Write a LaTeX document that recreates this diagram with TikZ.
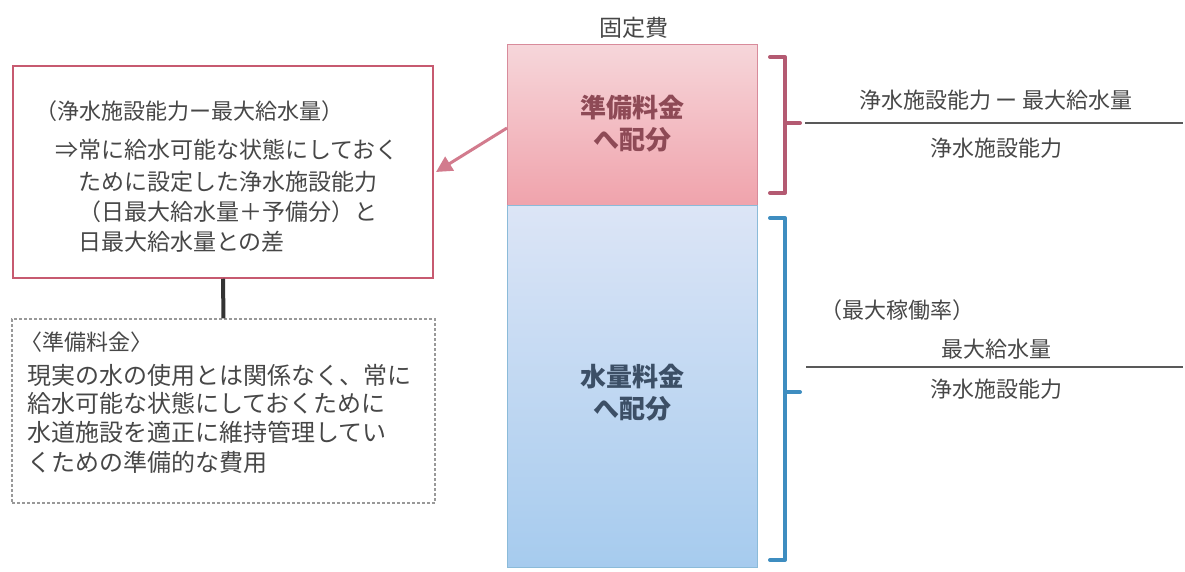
\documentclass[tikz,border=0pt]{standalone}
\usepackage{fontspec}
\setmainfont{Noto Sans CJK JP}
\usetikzlibrary{arrows.meta}
\definecolor{txt}{HTML}{474747}
\definecolor{redline}{HTML}{C75A70}
\definecolor{redbr}{HTML}{B45A72}
\definecolor{bluebr}{HTML}{3E8DC0}
\definecolor{pinktop}{HTML}{F6D6DA}
\definecolor{pinkbot}{HTML}{F0A3AC}
\definecolor{bluetop}{HTML}{DCE5F6}
\definecolor{bluebot}{HTML}{A6CBEE}
\definecolor{pinktxt}{HTML}{8E4A56}
\definecolor{bluetxt}{HTML}{3C4F66}
\tikzset{
  lbl/.style={inner sep=0pt, text=txt, font=\fontsize{23}{28}\selectfont, anchor=west},
  rlbl/.style={inner sep=0pt, text=txt, font=\fontsize{22}{26}\selectfont},
  bracket/.style={line width=4pt, line cap=round, line join=round},
  fracline/.style={line width=1.4pt, draw=txt!90},
}
\begin{document}
\begin{tikzpicture}[x=1pt,y=-1pt]
\useasboundingbox (0,0) rectangle (1185,572);
% main column
\node[draw=redline!70, line width=1pt, top color=pinktop, bottom color=pinkbot, minimum width=250pt, minimum height=160pt, inner sep=0pt] (pink) at (632,125) {};
\node[draw=bluebr!60, line width=1pt, top color=bluetop, bottom color=bluebot, minimum width=250pt, minimum height=362pt, inner sep=0pt] (blue) at (632,386) {};
\node[inner sep=0pt, text=txt, font=\fontsize{23}{28}\selectfont] (kotei) at (634,28) {固定費};
\node[inner sep=0pt, text=pinktxt, align=center, font=\fontsize{26}{32}\selectfont\bfseries] (pinktext) at (632,124) {準備料金\\へ配分};
\node[inner sep=0pt, text=bluetxt, align=center, font=\fontsize{26}{32}\selectfont\bfseries] (bluetext) at (632,393) {水量料金\\へ配分};
% left red box
\node[draw=redline, line width=1.5pt, fill=white, minimum width=420pt, minimum height=212pt, inner sep=0pt] (redbox) at (223,172) {};
\node[lbl, font=\fontsize{22}{26}\selectfont] (l1) at (35,111) {（浄水施設能力ー最大給水量）};
\node[lbl] (l2) at (55,150) {⇒常に給水可能な状態にしておく};
\node[lbl] (l3) at (78,182) {ために設定した浄水施設能力};
\node[lbl] (l4) at (78,212) {（日最大給水量＋予備分）と};
\node[lbl] (l5) at (78,242) {日最大給水量との差};
% dashed box
\node[draw=gray!80, line width=1.2pt, dash pattern=on 3pt off 2pt, minimum width=423pt, minimum height=184pt, inner sep=0pt] (dashbox) at (223.5,411) {};
\node[lbl, font=\fontsize{22}{26}\selectfont] (d1) at (20,342) {〈準備料金〉};
\node[lbl, font=\fontsize{24}{28}\selectfont] (d2) at (27,375) {現実の水の使用とは関係なく、常に};
\node[lbl, font=\fontsize{24}{28}\selectfont] (d3) at (27,403) {給水可能な状態にしておくために};
\node[lbl, font=\fontsize{24}{28}\selectfont] (d4) at (27,432) {水道施設を適正に維持管理してい};
\node[lbl, font=\fontsize{24}{28}\selectfont] (d5) at (27,462) {くための準備的な費用};
% connector
\draw[line width=4pt, draw=black!80] (redbox.south) -- (dashbox.north);
% arrow
\coordinate (aS) at (507,128);
\coordinate (aE) at (436,172);
\draw[line width=3pt, draw=redline!80, -{Triangle[length=16pt,width=16pt]}] (aS) -- (aE);
% brackets
\draw[bracket, draw=redbr] (770,57) -- (785,57) -- (785,193) -- (770,193);
\draw[bracket, draw=redbr] (785,123) -- (800,123);
\draw[bracket, draw=bluebr] (770,218) -- (785,218) -- (785,560) -- (770,560);
\draw[bracket, draw=bluebr] (785,392) -- (800,392);
% right fractions
\coordinate (f1a) at (805,123);
\coordinate (f1b) at (1183,123);
\draw[fracline] (f1a) -- (f1b);
\node[rlbl] (n1) at (996,100) {浄水施設能力 ー 最大給水量};
\node[rlbl] (m1) at (996,148) {浄水施設能力};
\node[rlbl, anchor=west] (rate) at (820,310) {（最大稼働率）};
\coordinate (f2a) at (806,367);
\coordinate (f2b) at (1183,367);
\draw[fracline] (f2a) -- (f2b);
\node[rlbl] (n2) at (996,349) {最大給水量};
\node[rlbl] (m2) at (996,389) {浄水施設能力};
\end{tikzpicture}
\end{document}
